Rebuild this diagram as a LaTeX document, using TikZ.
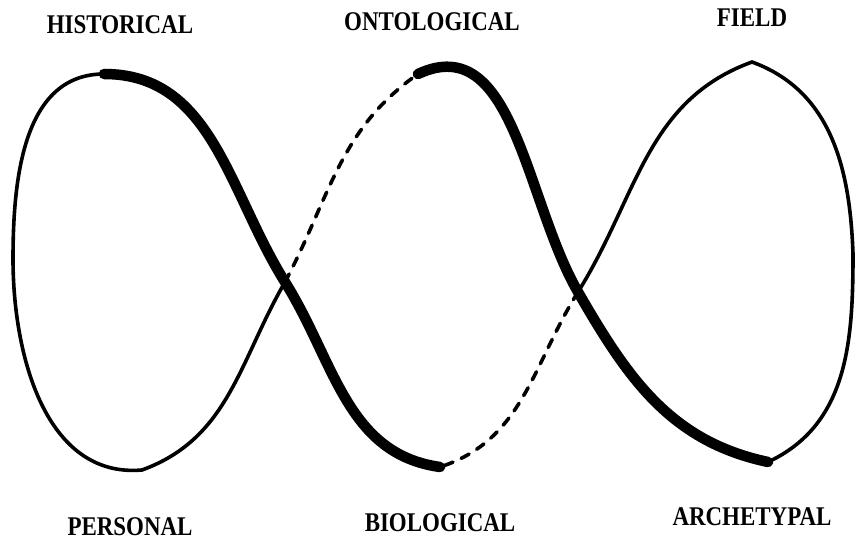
\documentclass[tikz,border=0pt]{standalone}
\usepackage{fontspec}
\setmainfont{Liberation Serif}
\begin{document}
\begin{tikzpicture}[x=1pt,y=1pt,
  lbl/.style={font=\bfseries\fontsize{27}{30}\selectfont, inner sep=0pt, xscale=0.85},
  thickline/.style={line width=10.5pt, line cap=round},
  thinline/.style={line width=3.6pt, line cap=round},
  dashline/.style={line width=3.6pt, line cap=round, dash pattern=on 9pt off 9pt}]
\useasboundingbox[fill=white] (0,0) rectangle (860,544);
% key points
\coordinate (LT) at (104,470);
\coordinate (LL) at (13,285);
\coordinate (LB) at (142,74);
\coordinate (C1) at (285,262);
\coordinate (MT) at (418,470);
\coordinate (MB) at (440,77);
\coordinate (C2) at (578,252);
\coordinate (RT) at (752,482);
\coordinate (RR) at (853,290);
\coordinate (RB) at (768,82);
% thin loops
\draw[thinline] (LT) to[out=180,in=90] (LL) to[out=-90,in=185] (LB) to[out=20,in=240] (C1);
\draw[thinline] (RB) to[out=25,in=-90] (RR) to[out=92,in=-20] (RT) to[out=200,in=58] (C2);
% dashed parts
\draw[dashline] (C1) to[out=62,in=215] (MT);
\draw[dashline] (C2) to[out=-122,in=18] (MB);
% thick strokes
\draw[thickline] (LT) to[out=0,in=122] (C1) to[out=-58,in=172] (MB);
\draw[thickline] (MT) to[out=25,in=120] (C2) to[out=-60,in=168] (RB);
% labels
\node[lbl] (hist) at (120,519) {HISTORICAL};
\node[lbl] (onto) at (432,522) {ONTOLOGICAL};
\node[lbl] (field) at (752,526) {FIELD};
\node[lbl] (pers) at (130,17) {PERSONAL};
\node[lbl] (bio) at (440,21) {BIOLOGICAL};
\node[lbl] (arch) at (752,27) {ARCHETYPAL};
\end{tikzpicture}
\end{document}
